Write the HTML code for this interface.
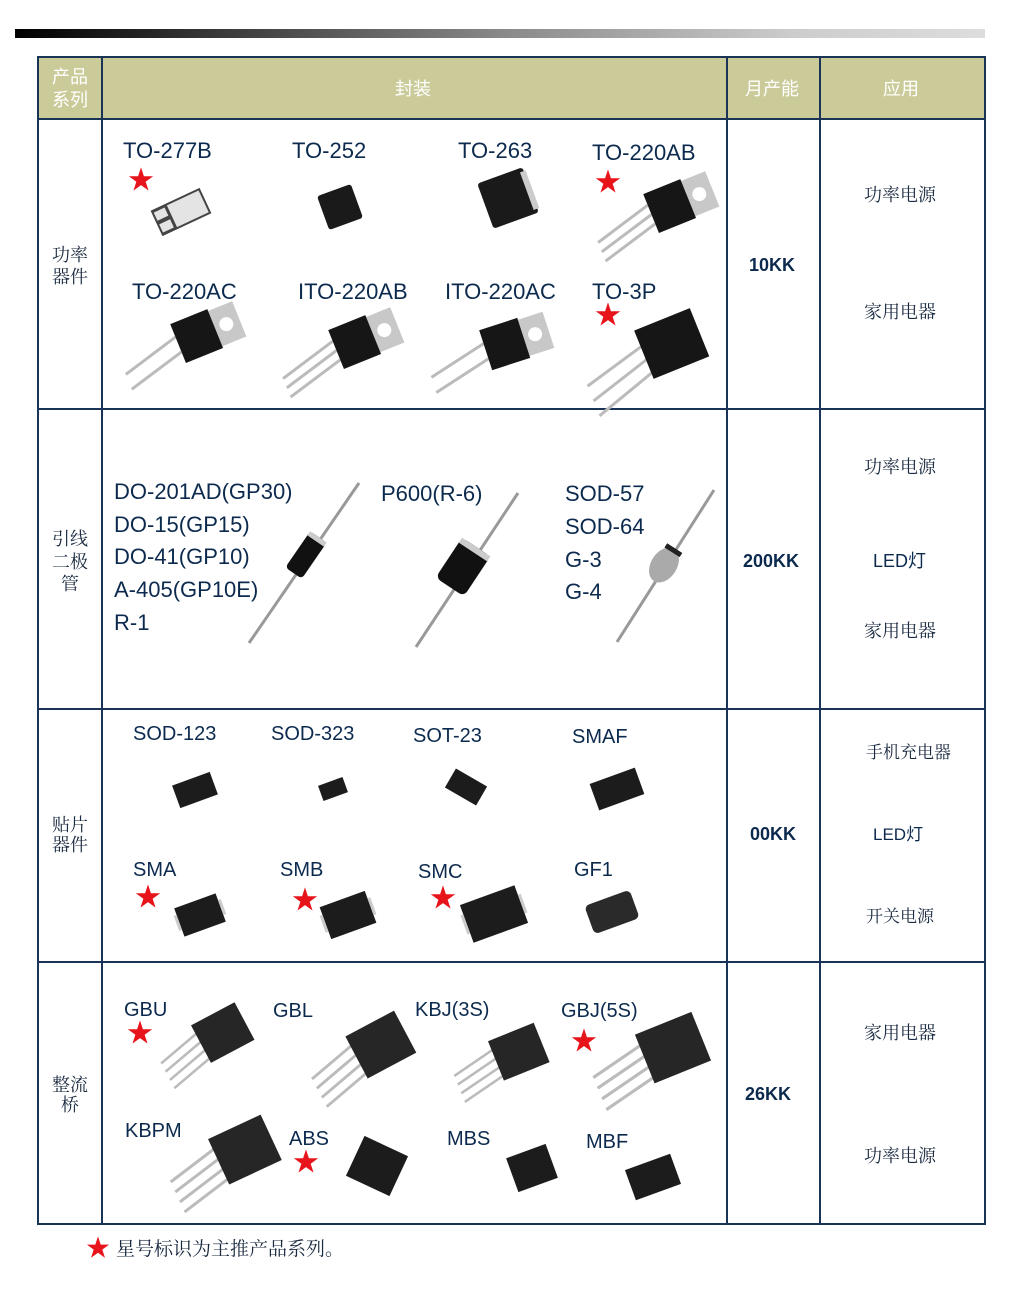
<!DOCTYPE html>
<html><head><meta charset="utf-8"><style>
html,body{margin:0;padding:0;background:#fff}
svg{display:block}
text{font-family:"Liberation Sans","Noto Sans CJK SC",sans-serif;fill:#0c2a4e}
.cj{font-family:"Noto Serif CJK SC","Noto Sans CJK SC",serif;fill:#1a2a40}
.st{fill:#e8141c;font-size:26px}
</style></head><body>
<svg width="1024" height="1301" viewBox="0 0 1024 1301" xmlns="http://www.w3.org/2000/svg">
<defs>
<linearGradient id="bar" x1="0" x2="1" y1="0" y2="0">
<stop offset="0" stop-color="#000"/><stop offset="0.5" stop-color="#888"/><stop offset="0.8" stop-color="#ccc"/><stop offset="1" stop-color="#ddd"/>
</linearGradient>
<g id="t3">
<line x1="-20" y1="-10" x2="-80" y2="6" stroke="#bbb" stroke-width="3"/>
<line x1="-20" y1="0" x2="-80" y2="16" stroke="#bbb" stroke-width="3"/>
<line x1="-20" y1="10" x2="-80" y2="26" stroke="#bbb" stroke-width="3"/>
<rect x="18" y="-20" width="28" height="38" fill="#c8c8c8"/>
<circle cx="32" cy="-1" r="7" fill="#fff"/>
<rect x="-20" y="-22" width="40" height="42" fill="#161616"/>
</g>
<g id="t2">
<line x1="-20" y1="-8" x2="-80" y2="8" stroke="#bbb" stroke-width="3"/>
<line x1="-20" y1="8" x2="-80" y2="24" stroke="#bbb" stroke-width="3"/>
<rect x="18" y="-20" width="28" height="38" fill="#c8c8c8"/>
<circle cx="32" cy="-1" r="7" fill="#fff"/>
<rect x="-20" y="-22" width="40" height="42" fill="#161616"/>
</g>
<g id="br">
<line x1="-25" y1="-14" x2="-80" y2="-2" stroke="#bbb" stroke-width="3"/>
<line x1="-25" y1="-3" x2="-80" y2="9" stroke="#bbb" stroke-width="3"/>
<line x1="-25" y1="8" x2="-80" y2="20" stroke="#bbb" stroke-width="3"/>
<line x1="-25" y1="19" x2="-80" y2="31" stroke="#bbb" stroke-width="3"/>
<rect x="-28" y="-25" width="58" height="50" fill="#262626"/>
</g>
</defs>

<rect x="15" y="29" width="970" height="9" fill="url(#bar)"/>

<rect x="38" y="57" width="947" height="62" fill="#cbcb9a"/>
<g stroke="#1a3458" stroke-width="2" fill="none">
<rect x="38" y="57" width="947" height="1167"/>
<line x1="38" y1="119" x2="985" y2="119"/>
<line x1="38" y1="409" x2="985" y2="409"/>
<line x1="38" y1="709" x2="985" y2="709"/>
<line x1="38" y1="962" x2="985" y2="962"/>
<line x1="102" y1="57" x2="102" y2="1224"/>
<line x1="727" y1="57" x2="727" y2="1224"/>
<line x1="820" y1="57" x2="820" y2="1224"/>
</g>
<g font-size="18">
<text x="52" y="83" style="fill:#fff;font-family:'Noto Sans CJK SC',sans-serif">产品</text>
<text x="52" y="106" style="fill:#fff;font-family:'Noto Sans CJK SC',sans-serif">系列</text>
<text x="395" y="95" style="fill:#fff;font-family:'Noto Sans CJK SC',sans-serif">封装</text>
<text x="745" y="95" style="fill:#fff;font-family:'Noto Sans CJK SC',sans-serif">月产能</text>
<text x="883" y="95" style="fill:#fff;font-family:'Noto Sans CJK SC',sans-serif">应用</text>
</g>

<g font-size="18">
<text class="cj" x="52" y="261">功率</text><text class="cj" x="52" y="283">器件</text>
<text class="cj" x="52" y="545">引线</text><text class="cj" x="52" y="568">二极</text><text class="cj" x="61" y="590">管</text>
<text class="cj" x="52" y="831">贴片</text><text class="cj" x="52" y="851">器件</text>
<text class="cj" x="52" y="1091">整流</text><text class="cj" x="61" y="1111">桥</text>
</g>

<g font-size="18" font-weight="bold">
<text x="749" y="271">10KK</text>
<text x="743" y="567">200KK</text>
<text x="750" y="840">00KK</text>
<text x="745" y="1100">26KK</text>
</g>

<g font-size="18">
<text class="cj" x="864" y="201">功率电源</text>
<text class="cj" x="864" y="318">家用电器</text>
<text class="cj" x="864" y="473">功率电源</text>
<text x="873" y="567">LED灯</text>
<text class="cj" x="864" y="637">家用电器</text>
<text class="cj" x="866" y="758" font-size="17">手机充电器</text>
<text x="873" y="840" font-size="17">LED灯</text>
<text class="cj" x="866" y="922" font-size="17">开关电源</text>
<text class="cj" x="864" y="1039">家用电器</text>
<text class="cj" x="864" y="1162">功率电源</text>
</g>

<g font-size="22">
<text x="123" y="158">TO-277B</text>
<text x="292" y="158">TO-252</text>
<text x="458" y="158">TO-263</text>
<text x="592" y="160">TO-220AB</text>
<text x="132" y="299">TO-220AC</text>
<text x="298" y="299">ITO-220AB</text>
<text x="445" y="299">ITO-220AC</text>
<text x="592" y="299">TO-3P</text>
</g>
<text class="st" x="128" y="189">★</text>
<text class="st" x="595" y="191">★</text>
<text class="st" x="595" y="324">★</text>
<g transform="translate(181,212) rotate(-25)"><rect x="-27" y="-14" width="54" height="28" fill="#444"/><rect x="-10" y="-12" width="35" height="24" fill="#e4e4e4"/><rect x="-25" y="-11" width="12" height="9" fill="#e4e4e4"/><rect x="-25" y="2" width="12" height="9" fill="#e4e4e4"/></g>
<g transform="translate(340,207) rotate(-20)"><rect x="-18" y="-18" width="36" height="36" rx="3" fill="#1a1a1a"/></g>
<g transform="translate(508,198) rotate(-20)"><rect x="-24" y="-24" width="48" height="48" rx="3" fill="#1a1a1a"/><rect x="20" y="-20" width="6" height="40" fill="#ccc"/></g>
<use href="#t3" transform="translate(670,207) rotate(-22)"/>
<use href="#t2" transform="translate(197,337) rotate(-22)"/>
<use href="#t3" transform="translate(355,343) rotate(-22)"/>
<use href="#t2" transform="translate(505,345) rotate(-18)"/>
<g transform="translate(668,345) rotate(-22)">
<line x1="-20" y1="-10" x2="-90" y2="8" stroke="#bbb" stroke-width="3"/>
<line x1="-20" y1="4" x2="-90" y2="24" stroke="#bbb" stroke-width="3"/>
<line x1="-20" y1="18" x2="-90" y2="40" stroke="#bbb" stroke-width="3"/>
<rect x="-26" y="-26" width="60" height="52" fill="#161616"/></g>

<g font-size="22">
<text x="114" y="499">DO-201AD(GP30)</text>
<text x="114" y="532">DO-15(GP15)</text>
<text x="114" y="564">DO-41(GP10)</text>
<text x="114" y="597">A-405(GP10E)</text>
<text x="114" y="630">R-1</text>
<text x="381" y="501">P600(R-6)</text>
<text x="565" y="501">SOD-57</text>
<text x="565" y="534">SOD-64</text>
<text x="565" y="567">G-3</text>
<text x="565" y="599">G-4</text>
</g>
<line x1="359" y1="483" x2="249" y2="643" stroke="#999" stroke-width="3"/>
<g transform="translate(306,555) rotate(34.5)"><rect x="-10" y="-22" width="20" height="44" rx="4" fill="#111"/><rect x="-10" y="-22" width="20" height="5" fill="#ccc"/></g>
<line x1="518" y1="493" x2="416" y2="647" stroke="#999" stroke-width="3"/>
<g transform="translate(463,567) rotate(33.5)"><rect x="-17" y="-24" width="34" height="48" rx="6" fill="#111"/><rect x="-17" y="-24" width="34" height="6" fill="#ccc"/></g>
<line x1="714" y1="490" x2="617" y2="642" stroke="#999" stroke-width="3"/>
<g transform="translate(664,565) rotate(32.5)"><ellipse cx="0" cy="0" rx="13" ry="19" fill="#aaa"/><rect x="-9" y="-20" width="18" height="5" fill="#222"/></g>

<g font-size="20">
<text x="133" y="740">SOD-123</text>
<text x="271" y="740">SOD-323</text>
<text x="413" y="742">SOT-23</text>
<text x="572" y="743">SMAF</text>
<text x="133" y="876">SMA</text>
<text x="280" y="876">SMB</text>
<text x="418" y="878">SMC</text>
<text x="574" y="876">GF1</text>
</g>
<text class="st" x="135" y="906">★</text>
<text class="st" x="292" y="909">★</text>
<text class="st" x="430" y="907">★</text>
<g transform="translate(195,790) rotate(-20)"><rect x="-20" y="-12" width="40" height="24" fill="#1c1c1c"/></g>
<g transform="translate(333,789) rotate(-20)"><rect x="-13" y="-8" width="26" height="16" fill="#1c1c1c"/></g>
<g transform="translate(466,787) rotate(30)"><rect x="-18" y="-11" width="36" height="22" fill="#1c1c1c"/></g>
<g transform="translate(617,789) rotate(-20)"><rect x="-24" y="-14" width="48" height="28" fill="#1c1c1c"/></g>
<g transform="translate(200,915) rotate(-20)"><rect x="-22" y="-15" width="44" height="30" fill="#1c1c1c"/><rect x="-25" y="-8" width="3" height="16" fill="#ccc"/><rect x="22" y="-8" width="3" height="16" fill="#ccc"/></g>
<g transform="translate(348,915) rotate(-20)"><rect x="-24" y="-17" width="48" height="34" fill="#1c1c1c"/><rect x="-27" y="-9" width="3" height="18" fill="#ccc"/><rect x="24" y="-9" width="3" height="18" fill="#ccc"/></g>
<g transform="translate(494,914) rotate(-20)"><rect x="-29" y="-20" width="58" height="40" fill="#1c1c1c"/><rect x="-32" y="-10" width="3" height="20" fill="#ccc"/><rect x="29" y="-10" width="3" height="20" fill="#ccc"/></g>
<g transform="translate(612,912) rotate(-20)"><rect x="-24" y="-15" width="48" height="30" rx="5" fill="#2a2a2a"/></g>

<g font-size="20">
<text x="124" y="1016">GBU</text>
<text x="273" y="1017">GBL</text>
<text x="415" y="1016">KBJ(3S)</text>
<text x="561" y="1017">GBJ(5S)</text>
<text x="125" y="1137">KBPM</text>
<text x="289" y="1145">ABS</text>
<text x="447" y="1145">MBS</text>
<text x="586" y="1148">MBF</text>
</g>
<text class="st" x="127" y="1042">★</text>
<text class="st" x="571" y="1050">★</text>
<text class="st" x="293" y="1171">★</text>
<use href="#br" transform="translate(222,1033) rotate(-28) scale(0.85)"/>
<use href="#br" transform="translate(380,1045) rotate(-28) scale(0.95)"/>
<use href="#br" transform="translate(518,1052) rotate(-22) scale(0.85)"/>
<use href="#br" transform="translate(672,1048) rotate(-22) scale(1.05)"/>
<use href="#br" transform="translate(244,1150) rotate(-25) scale(1)"/>
<g transform="translate(377,1166) rotate(25)"><rect x="-24" y="-22" width="48" height="44" fill="#1c1c1c"/></g>
<g transform="translate(532,1168) rotate(-20)"><rect x="-21" y="-18" width="42" height="36" fill="#1c1c1c"/></g>
<g transform="translate(653,1177) rotate(-20)"><rect x="-24" y="-16" width="48" height="32" fill="#1c1c1c"/></g>

<text x="86" y="1256" style="fill:#e8141c" font-size="24">★</text>
<text class="cj" x="116" y="1255" font-size="19">星号标识为主推产品系列。</text>
</svg>
</body></html>
